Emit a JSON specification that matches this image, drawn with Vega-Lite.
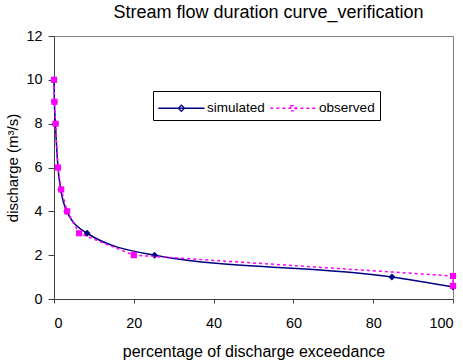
{
  "$schema": "https://vega.github.io/schema/vega-lite/v6.json",
  "width": 399,
  "height": 263,
  "autosize": {"type": "none"},
  "padding": {"left": 54, "top": 36, "right": 10, "bottom": 63},
  "background": "white",
  "title": {"text": "Stream flow duration curve_verification", "font": "Liberation Sans", "fontSize": 18, "fontWeight": "normal", "color": "#000000", "anchor": "middle", "dx": 15, "baseline": "alphabetic", "offset": 18, "dy": 26},
  "config": {
    "view": {"stroke": "#808080", "strokeWidth": 1},
    "axis": {"labelFont": "Liberation Sans", "labelFontSize": 14.4, "labelColor": "#000000", "titleFont": "Liberation Sans", "titleFontWeight": "normal", "titleColor": "#000000", "domainColor": "#404040", "tickColor": "#404040", "grid": false}
  },
  "data": {"values": [
    {"series": "simulated", "pct": 0, "q": 10},
    {"series": "simulated", "pct": 0.1, "q": 9},
    {"series": "simulated", "pct": 0.35, "q": 8},
    {"series": "simulated", "pct": 1, "q": 6},
    {"series": "simulated", "pct": 1.7, "q": 5},
    {"series": "simulated", "pct": 3.2, "q": 4},
    {"series": "simulated", "pct": 8.3, "q": 3},
    {"series": "simulated", "pct": 25.2, "q": 2},
    {"series": "simulated", "pct": 84.7, "q": 1},
    {"series": "simulated", "pct": 100, "q": 0.55},
    {"series": "observed", "pct": 0, "q": 10},
    {"series": "observed", "pct": 0.1, "q": 9},
    {"series": "observed", "pct": 0.4, "q": 8},
    {"series": "observed", "pct": 1, "q": 6},
    {"series": "observed", "pct": 1.8, "q": 5},
    {"series": "observed", "pct": 3.3, "q": 4},
    {"series": "observed", "pct": 6.3, "q": 3},
    {"series": "observed", "pct": 20, "q": 2},
    {"series": "observed", "pct": 100, "q": 1.05},
    {"series": "observed", "pct": 100, "q": 0.6}
  ]},
  "encoding": {
    "x": {"field": "pct", "type": "quantitative", "scale": {"domain": [0, 100], "nice": false},
      "axis": {"values": [0, 20, 40, 60, 80, 100], "tickSize": 4, "labelPadding": 13, "title": "percentage of discharge exceedance", "titleFontSize": 16, "titlePadding": 14}},
    "y": {"field": "q", "type": "quantitative", "scale": {"domain": [0, 12], "nice": false},
      "axis": {"values": [0, 2, 4, 6, 8, 10, 12], "tickSize": 6, "labelPadding": 6, "title": "discharge (m³/s)", "titleFontSize": 15, "titlePadding": 5}}
  },
  "layer": [
    {"transform": [{"filter": "datum.series === 'simulated'"}],
     "mark": {"type": "line", "color": "#000080", "strokeWidth": 1.5, "interpolate": "monotone"}},
    {"transform": [{"filter": "datum.series === 'simulated'"}],
     "mark": {"type": "point", "shape": "diamond", "filled": true, "color": "#000080", "size": 48, "opacity": 1}},
    {"transform": [{"filter": "datum.series === 'observed'"}],
     "mark": {"type": "line", "color": "#FF00FF", "strokeWidth": 1.5, "strokeDash": [3, 3]}},
    {"transform": [{"filter": "datum.series === 'observed'"}],
     "mark": {"type": "point", "shape": "square", "filled": true, "color": "#FF00FF", "size": 38, "opacity": 1}},
    {"mark": {"type": "point", "opacity": 0, "filled": true, "strokeWidth": 1.3},
     "encoding": {
       "stroke": {"field": "series", "type": "nominal", "scale": {"domain": ["simulated", "observed"], "range": ["#000080", "#FF00FF"]},
         "legend": {"orient": "none", "legendX": 99, "legendY": 55, "direction": "horizontal", "title": null, "strokeColor": "#000000", "padding": 5, "symbolOpacity": 1, "symbolSize": 484, "symbolOffset": 11.4, "symbolStrokeWidth": 1.3, "labelFont": "Liberation Sans", "labelFontSize": 13.5, "labelColor": "#000000", "labelOffset": 13.7, "columnPadding": 2, "fillColor": "white"}},
       "fill": {"field": "series", "type": "nominal", "scale": {"domain": ["simulated", "observed"], "range": ["#000080", "#FF00FF"]}},
       "shape": {"field": "series", "type": "nominal", "scale": {"domain": ["simulated", "observed"], "range": ["M-2.1,0H2.1M0,-0.28L0.28,0L0,0.28L-0.28,0Z", "M-2.1,0H2.1M-0.23,-0.23H0.23V0.23H-0.23Z"]}},
       "strokeDash": {"field": "series", "type": "nominal", "scale": {"domain": ["simulated", "observed"], "range": [[1, 0], [3, 3]]}}
     }}
  ]
}
